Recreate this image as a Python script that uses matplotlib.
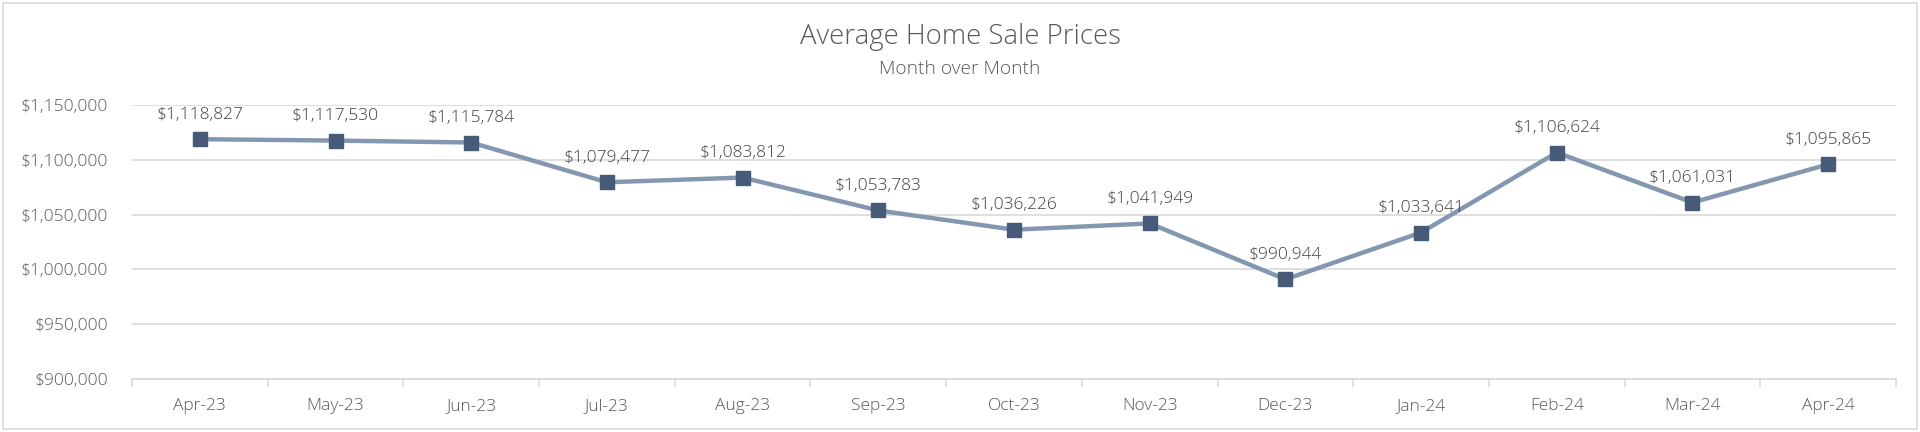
import matplotlib
matplotlib.use("Agg")
import matplotlib.pyplot as plt
from matplotlib.patches import Rectangle
from matplotlib.ticker import FuncFormatter, FixedLocator

plt.rcParams['font.family'] = ['Open Sans', 'DejaVu Sans']
plt.rcParams['font.weight'] = 'light'

months = ["Apr-23", "May-23", "Jun-23", "Jul-23", "Aug-23", "Sep-23", "Oct-23",
          "Nov-23", "Dec-23", "Jan-24", "Feb-24", "Mar-24", "Apr-24"]
prices = [1118827, 1117530, 1115784, 1079477, 1083812, 1053783, 1036226,
          1041949, 990944, 1033641, 1106624, 1061031, 1095865]
y_ticks = [900000, 950000, 1000000, 1050000, 1100000, 1150000]

text_col = "#404040"
tick_col = "#595959"
grid_col = "#D9D9D9"
line_col = "#8497B0"
marker_col = "#475A77"

fig = plt.figure(figsize=(19.2, 4.32), dpi=100)
fig.patches.append(Rectangle((3 / 1920, 3 / 432), 1 - 6 / 1920, 1 - 6 / 432,
                             transform=fig.transFigure, fill=False,
                             edgecolor=grid_col, linewidth=1.2))

ax = fig.add_axes([132 / 1920, 1 - 379 / 432, (1896 - 132) / 1920, (379 - 105) / 432])
x = list(range(len(months)))
ax.plot(x, prices, color=line_col, linewidth=3.2, zorder=3)
ax.plot(x, prices, linestyle="none", marker="s", markersize=10.5,
        color=marker_col, zorder=4)

for xi, p in zip(x, prices):
    ax.annotate(f"${p:,}", (xi, p), xytext=(0, 17.5), textcoords="offset points",
                ha="center", va="center", fontsize=12.5, color=text_col)

ax.set_xlim(-0.5, len(months) - 0.5)
ax.set_ylim(y_ticks[0], y_ticks[-1])
ax.set_yticks(y_ticks)
ax.yaxis.set_major_formatter(FuncFormatter(lambda v, _: f"${v:,.0f}"))
ax.set_xticks(x)
ax.set_xticklabels(months)
ax.xaxis.set_minor_locator(FixedLocator([i - 0.5 for i in range(len(months) + 1)]))

ax.grid(axis="y", color=grid_col, linewidth=1.2)
ax.set_axisbelow(True)
for side in ["top", "right", "left"]:
    ax.spines[side].set_visible(False)
ax.spines["bottom"].set_color(grid_col)
ax.spines["bottom"].set_linewidth(1.2)
ax.tick_params(axis="y", length=0, pad=17, labelsize=12.5, labelcolor=tick_col)
ax.tick_params(axis="x", which="major", length=0, pad=14, labelsize=12.5, labelcolor=tick_col)
ax.tick_params(axis="x", which="minor", length=6, width=1.2, color=grid_col)

fig.text(0.5, 1 - 37 / 432, "Average Home Sale Prices", ha="center", va="center",
         fontsize=19.8, color=tick_col)
fig.text(0.5, 1 - 69 / 432, "Month over Month", ha="center", va="center",
         fontsize=13.8, color=tick_col)

fig.savefig("out.png", dpi=100)
